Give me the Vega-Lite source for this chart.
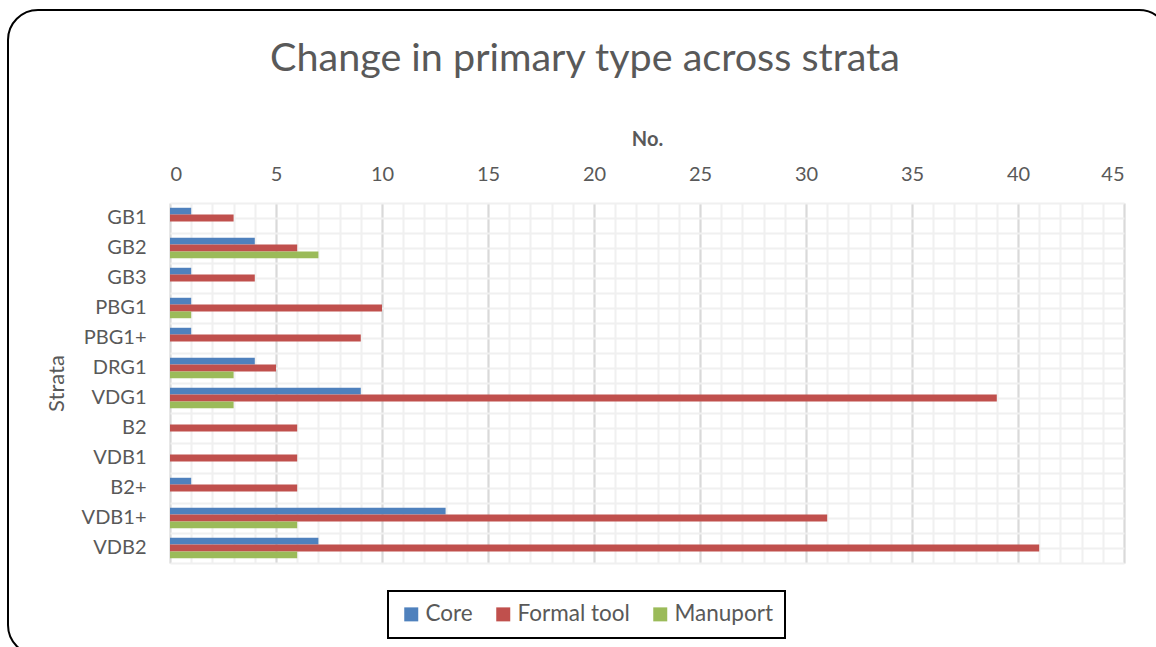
{
  "$schema": "https://vega.github.io/schema/vega-lite/v6.json",
  "width": 954,
  "height": 360,
  "autosize": "none",
  "padding": {"left": 170, "top": 203, "right": 32, "bottom": 84},
  "background": "white",
  "title": {
    "text": "Change in primary type across strata",
    "fontSize": 39.5,
    "font": "Lato",
    "fontWeight": "normal",
    "color": "#595959",
    "anchor": "middle",
    "dx": -62,
    "offset": -70
  },
  "config": {
    "view": {"stroke": null},
    "font": "Lato"
  },
  "data": {
    "values": [
      {"stratum": "GB1", "type": "Core", "value": 1},
      {"stratum": "GB1", "type": "Formal tool", "value": 3},
      {"stratum": "GB1", "type": "Manuport", "value": 0},
      {"stratum": "GB2", "type": "Core", "value": 4},
      {"stratum": "GB2", "type": "Formal tool", "value": 6},
      {"stratum": "GB2", "type": "Manuport", "value": 7},
      {"stratum": "GB3", "type": "Core", "value": 1},
      {"stratum": "GB3", "type": "Formal tool", "value": 4},
      {"stratum": "GB3", "type": "Manuport", "value": 0},
      {"stratum": "PBG1", "type": "Core", "value": 1},
      {"stratum": "PBG1", "type": "Formal tool", "value": 10},
      {"stratum": "PBG1", "type": "Manuport", "value": 1},
      {"stratum": "PBG1+", "type": "Core", "value": 1},
      {"stratum": "PBG1+", "type": "Formal tool", "value": 9},
      {"stratum": "PBG1+", "type": "Manuport", "value": 0},
      {"stratum": "DRG1", "type": "Core", "value": 4},
      {"stratum": "DRG1", "type": "Formal tool", "value": 5},
      {"stratum": "DRG1", "type": "Manuport", "value": 3},
      {"stratum": "VDG1", "type": "Core", "value": 9},
      {"stratum": "VDG1", "type": "Formal tool", "value": 39},
      {"stratum": "VDG1", "type": "Manuport", "value": 3},
      {"stratum": "B2", "type": "Core", "value": 0},
      {"stratum": "B2", "type": "Formal tool", "value": 6},
      {"stratum": "B2", "type": "Manuport", "value": 0},
      {"stratum": "VDB1", "type": "Core", "value": 0},
      {"stratum": "VDB1", "type": "Formal tool", "value": 6},
      {"stratum": "VDB1", "type": "Manuport", "value": 0},
      {"stratum": "B2+", "type": "Core", "value": 1},
      {"stratum": "B2+", "type": "Formal tool", "value": 6},
      {"stratum": "B2+", "type": "Manuport", "value": 0},
      {"stratum": "VDB1+", "type": "Core", "value": 13},
      {"stratum": "VDB1+", "type": "Formal tool", "value": 31},
      {"stratum": "VDB1+", "type": "Manuport", "value": 6},
      {"stratum": "VDB2", "type": "Core", "value": 7},
      {"stratum": "VDB2", "type": "Formal tool", "value": 41},
      {"stratum": "VDB2", "type": "Manuport", "value": 6}
    ]
  },
  "layer": [
    {
      "mark": {"type": "bar", "opacity": 0},
      "encoding": {
        "x": {
          "field": "value", "type": "quantitative",
          "scale": {"domain": [0, 45], "nice": false},
          "axis": {
            "orient": "bottom",
            "title": null,
            "values": [0,1,2,3,4,5,6,7,8,9,10,11,12,13,14,15,16,17,18,19,20,21,22,23,24,25,26,27,28,29,30,31,32,33,34,35,36,37,38,39,40,41,42,43,44,45],
            "labels": false,
            "ticks": false,
            "domain": false,
            "grid": true,
            "gridColor": "#f0f0f0",
            "gridWidth": 2
          }
        },
        "y": {
          "field": "stratum", "type": "nominal",
          "sort": ["GB1","GB2","GB3","PBG1","PBG1+","DRG1","VDG1","B2","VDB1","B2+","VDB1+","VDB2"],
          "scale": {"paddingInner": 0, "paddingOuter": 0},
          "axis": {
            "orient": "right",
            "title": null,
            "labels": false,
            "ticks": false,
            "domain": false,
            "grid": true,
            "tickBand": "extent",
            "gridColor": "#f0f0f0",
            "gridWidth": 2
          }
        },
        "yOffset": {
          "field": "type", "type": "nominal",
          "scale": {"domain": ["Core","Formal tool","Manuport"], "paddingOuter": 0.7, "paddingInner": 0}
        },
        "color": {
          "field": "value", "type": "quantitative",
          "scale": {"range": ["rgba(255,255,255,0)", "rgba(255,255,255,0)"]},
          "legend": {
            "type": "gradient",
            "title": null,
            "orient": "none",
            "direction": "horizontal",
            "legendX": -162,
            "legendY": -193,
            "gradientLength": 1161,
            "gradientThickness": 642,
            "gradientStrokeWidth": 0,
            "labels": false,
            "labelExpr": "''",
            "labelFontSize": 1,
            "labelOpacity": 0,
            "padding": 0,
            "strokeColor": "#000000",
            "cornerRadius": 30,
            "encode": {"legend": {"update": {"strokeWidth": {"value": 2}}}}
          }
        }
      }
    },
    {
      "mark": {"type": "bar"},
      "encoding": {
        "x": {
          "field": "value", "type": "quantitative",
          "axis": {
            "orient": "top",
            "title": "No.",
            "titleFontSize": 20,
            "titleFontWeight": "bold",
            "titleColor": "#595959",
            "titlePadding": 15,
            "values": [0,5,10,15,20,25,30,35,40,45],
            "labelOverlap": false,
            "labelFontSize": 20,
            "labelColor": "#595959",
            "labelPadding": 19,
            "ticks": false,
            "domain": false,
            "grid": true,
            "gridColor": "#d9d9d9",
            "gridWidth": 2
          }
        },
        "y": {
          "field": "stratum", "type": "nominal",
          "sort": ["GB1","GB2","GB3","PBG1","PBG1+","DRG1","VDG1","B2","VDB1","B2+","VDB1+","VDB2"],
          "axis": {
            "orient": "left",
            "title": "Strata",
            "titleFontSize": 22,
            "titleFontWeight": "normal",
            "titleColor": "#595959",
            "titlePadding": 13,
            "labelFontSize": 20,
            "labelColor": "#595959",
            "labelPadding": 24,
            "ticks": false,
            "domain": false,
            "grid": true,
            "gridColor": "#f0f0f0",
            "gridWidth": 2
          }
        },
        "yOffset": {"field": "type", "type": "nominal"},
        "color": {
          "field": "type", "type": "nominal",
          "scale": {"domain": ["Core","Formal tool","Manuport"], "range": ["#4f81bd","#c0504d","#9bbb59"]},
          "legend": {
            "title": null,
            "orient": "none",
            "direction": "horizontal",
            "legendX": 218,
            "legendY": 388,
            "strokeColor": "#000000",
            "padding": 12,
            "labelFontSize": 22.5,
            "labelColor": "#595959",
            "symbolType": "square",
            "symbolSize": 196,
            "symbolStrokeWidth": 0,
            "columnPadding": 19,
            "labelOffset": 3,
            "encode": {"legend": {"update": {"strokeWidth": {"value": 2}}}}
          }
        }
      }
    }
  ],
  "resolve": {
    "axis": {"x": "independent", "y": "independent"},
    "scale": {"color": "independent"},
    "legend": {"color": "independent"}
  }
}
